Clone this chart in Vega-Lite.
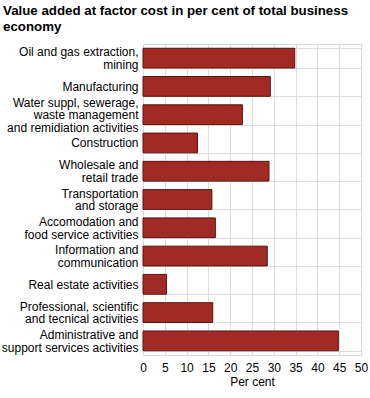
{
  "$schema": "https://vega.github.io/schema/vega-lite/v6.json",
  "width": 218,
  "height": 311,
  "autosize": {"type": "none"},
  "padding": {"left": 143, "top": 44, "right": 9, "bottom": 43},
  "background": "white",
  "title": {
    "text": ["Value added at factor cost in per cent of total business", "economy"],
    "anchor": "start",
    "frame": "group",
    "dx": -140,
    "fontSize": 13.3,
    "font": "Liberation Sans",
    "fontWeight": "bold",
    "color": "#000000",
    "lineHeight": 16,
    "baseline": "top",
    "offset": 5
  },
  "config": {
    "view": {"stroke": "#d9d9d9", "strokeWidth": 1},
    "font": "Liberation Sans",
    "axis": {
      "labelFont": "Liberation Sans",
      "titleFont": "Liberation Sans",
      "labelColor": "#000000",
      "titleColor": "#000000",
      "gridColor": "#dcdcdc",
      "gridOpacity": 1,
      "domain": false,
      "ticks": false
    }
  },
  "data": {
    "values": [
      {"category": "Oil and gas extraction,|mining", "value": 34.8},
      {"category": "Manufacturing", "value": 29.2},
      {"category": "Water suppl, sewerage,|waste management|and remidiation activities", "value": 22.8},
      {"category": "Construction", "value": 12.5},
      {"category": "Wholesale and|retail trade", "value": 28.9},
      {"category": "Transportation|and storage", "value": 15.8},
      {"category": "Accomodation and|food service activities", "value": 16.6},
      {"category": "Information and|communication", "value": 28.5},
      {"category": "Real estate activities", "value": 5.4},
      {"category": "Professional, scientific|and tecnical activities", "value": 16.0},
      {"category": "Administrative and|support services activities", "value": 44.8}
    ]
  },
  "mark": {"type": "bar", "color": "#a12a25", "stroke": "#5a1512", "strokeWidth": 1},
  "encoding": {
    "y": {
      "field": "category",
      "type": "nominal",
      "sort": null,
      "scale": {"paddingInner": 0.3, "paddingOuter": 0.15},
      "axis": {
        "title": null,
        "labelExpr": "split(datum.label, '|')",
        "labelFontSize": 12,
        "labelLineHeight": 12.5,
        "labelPadding": 5,
        "labelLimit": 200,
        "labelOffset": {
          "condition": [
            {"test": "length(split(datum.value, '|')) == 3", "value": -12.5},
            {"test": "length(split(datum.value, '|')) == 2", "value": -6.25}
          ],
          "value": 0
        },
        "grid": true,
        "tickBand": "extent"
      }
    },
    "x": {
      "field": "value",
      "type": "quantitative",
      "scale": {"domain": [0, 50], "nice": false},
      "axis": {
        "title": "Per cent",
        "values": [0, 5, 10, 15, 20, 25, 30, 35, 40, 45, 50],
        "labelFontSize": 12,
        "titleFontSize": 12,
        "titleFontWeight": "normal",
        "labelFlush": false,
        "labelPadding": 7,
        "titlePadding": 3,
        "grid": true
      }
    }
  }
}
